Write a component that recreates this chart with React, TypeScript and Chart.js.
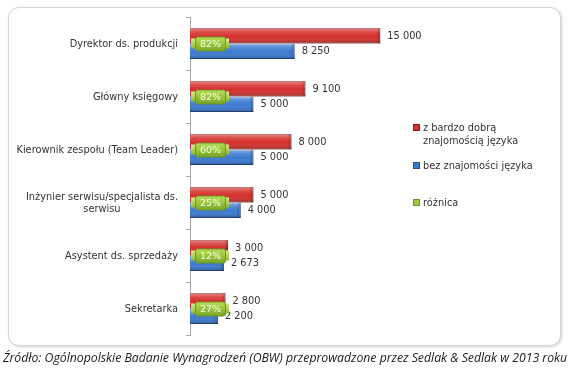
import React, { useEffect, useRef } from "react";
import { Chart, registerables } from "chart.js";

Chart.register(...registerables);

const categories: string[][] = [
  ["Dyrektor ds. produkcji"],
  ["Główny księgowy"],
  ["Kierownik zespołu (Team Leader)"],
  ["Inżynier serwisu/specjalista ds.", "serwisu"],
  ["Asystent ds. sprzedaży"],
  ["Sekretarka"],
];
const withLanguage = [15000, 9100, 8000, 5000, 3000, 2800];
const withoutLanguage = [8250, 5000, 5000, 4000, 2673, 2200];
const differencePct = [82, 82, 60, 25, 12, 27];
const seriesNames = [
  ["z bardzo dobrą", "znajomością języka"],
  ["bez znajomości języka"],
  ["różnica"],
];
const sourceText =
  "Źródło: Ogólnopolskie Badanie Wynagrodzeń (OBW) przeprowadzone przez Sedlak & Sedlak w 2013 roku";

const FONT = "9.8px 'DejaVu Sans'";
const TEXT = "#333333";
const AXIS = "#a6a6a6";
const colors = ["#d5302c", "#3b79d1", "#9cc83c"];
const borders = ["#8f1c1a", "#24508f", "#6d9626"];

const fmt = (v: number) => String(v).replace(/\B(?=(\d{3})+(?!\d))/g, " ");

const decorPlugin = {
  id: "decor",
  afterDatasetsDraw(chart: any) {
    const ctx = chart.ctx as CanvasRenderingContext2D;
    [0, 1].forEach((di) => {
      const meta = chart.getDatasetMeta(di);
      meta.data.forEach((el: any) => {
        const { x, y, base, height } = el.getProps(["x", "y", "base", "height"], true);
        const top = y - height / 2;
        const g = ctx.createLinearGradient(0, top, 0, top + height);
        g.addColorStop(0, "rgba(255,255,255,0.45)");
        g.addColorStop(0.25, "rgba(255,255,255,0.15)");
        g.addColorStop(0.55, "rgba(255,255,255,0)");
        g.addColorStop(1, "rgba(0,0,0,0.28)");
        ctx.save();
        ctx.fillStyle = g;
        ctx.fillRect(base, top, x - base, height);
        const g2 = ctx.createLinearGradient(x - 4, 0, x, 0);
        g2.addColorStop(0, "rgba(0,0,0,0)");
        g2.addColorStop(1, "rgba(0,0,0,0.25)");
        ctx.fillStyle = g2;
        ctx.fillRect(x - 4, top, 4, height);
        ctx.restore();
      });
    });
    ctx.save();
    ctx.font = FONT;
    ctx.fillStyle = TEXT;
    ctx.textAlign = "left";
    ctx.textBaseline = "middle";
    [0, 1].forEach((di) => {
      const meta = chart.getDatasetMeta(di);
      const data = chart.data.datasets[di].data as number[];
      meta.data.forEach((el: any, i: number) => {
        const { x, y } = el.getProps(["x", "y"], true);
        ctx.fillText(fmt(data[i]), x + 7, y + 0.5);
      });
    });
    ctx.restore();
    const yScale = chart.scales.y;
    const left = chart.chartArea.left;
    ctx.save();
    differencePct.forEach((p, i) => {
      const cy = yScale.getPixelForValue(i);
      const gb = ctx.createLinearGradient(0, cy - 5, 0, cy + 5);
      gb.addColorStop(0, "#d6ea8f");
      gb.addColorStop(1, "#8fb935");
      ctx.fillStyle = gb;
      ctx.fillRect(left + 1, cy - 5, 38, 10);
      const bx = left + 5;
      const bw = 30;
      const bh = 14;
      const by = cy - bh / 2;
      const g = ctx.createLinearGradient(0, by, 0, by + bh);
      g.addColorStop(0, "#b9dc5c");
      g.addColorStop(0.5, "#9cc83c");
      g.addColorStop(1, "#7aa62a");
      ctx.fillStyle = g;
      ctx.strokeStyle = borders[2];
      ctx.lineWidth = 1;
      ctx.beginPath();
      (ctx as any).roundRect(bx + 0.5, by + 0.5, bw, bh, 2);
      ctx.fill();
      ctx.stroke();
      ctx.font = "9.5px 'DejaVu Sans'";
      ctx.fillStyle = "#f7fcea";
      ctx.textAlign = "center";
      ctx.textBaseline = "middle";
      ctx.fillText(p + "%", bx + bw / 2 + 0.5, cy + 1);
    });
    ctx.restore();
  },
  afterDraw(chart: any) {
    const ctx = chart.ctx as CanvasRenderingContext2D;
    const yScale = chart.scales.y;
    const rightX = chart.chartArea.left - 12;
    ctx.save();
    ctx.font = FONT;
    ctx.fillStyle = TEXT;
    ctx.textAlign = "center";
    ctx.textBaseline = "middle";
    categories.forEach((lines, i) => {
      const cy = yScale.getPixelForValue(i);
      const w = Math.max(...lines.map((l) => ctx.measureText(l).width));
      const cx = rightX - w / 2;
      lines.forEach((l, j) => {
        ctx.fillText(l, cx, cy + (j - (lines.length - 1) / 2) * 12 + 0.5);
      });
    });
    ctx.restore();
  },
};

export default function App() {
  const ref = useRef<HTMLCanvasElement>(null);
  useEffect(() => {
    if (!ref.current) return;
    const chart = new Chart(ref.current, {
      type: "bar",
      data: {
        labels: categories.map((c) => c.join(" ")),
        datasets: [
          {
            label: seriesNames[0].join(" "),
            data: withLanguage,
            backgroundColor: colors[0],
            borderColor: borders[0],
            borderWidth: 1,
            categoryPercentage: 0.585,
            barPercentage: 1,
          },
          {
            label: seriesNames[1].join(" "),
            data: withoutLanguage,
            backgroundColor: colors[1],
            borderColor: borders[1],
            borderWidth: 1,
            categoryPercentage: 0.585,
            barPercentage: 1,
          },
        ],
      },
      options: {
        indexAxis: "y",
        responsive: false,
        animation: false,
        layout: { padding: { left: 0, right: 177, top: 17, bottom: 35 } },
        plugins: { legend: { display: false }, tooltip: { enabled: false } },
        scales: {
          x: { display: false, min: 0, max: 16000 },
          y: {
            afterFit: (s: any) => {
              s.width = 190;
            },
            ticks: { display: false },
            grid: {
              drawOnChartArea: false,
              drawTicks: true,
              tickLength: 4,
              color: AXIS,
              offset: true,
            },
            border: { display: true, color: AXIS },
          },
        },
      },
      plugins: [decorPlugin],
    });
    return () => chart.destroy();
  }, []);

  const legendTop = [121, 159, 196];
  return (
    <div style={{ position: "fixed", left: 0, top: 0, width: 570, height: 370, background: "#fff", overflow: "hidden" }}>
      <div
        style={{
          position: "absolute",
          left: 8,
          top: 7,
          width: 551,
          height: 337,
          border: "1px solid #d6d6d6",
          borderRadius: 11,
          boxShadow: "1px 1px 3px rgba(0,0,0,0.18)",
          background: "#fff",
        }}
      />
      <canvas ref={ref} width={570} height={370} style={{ position: "absolute", left: 0, top: 0 }} />
      {seriesNames.map((lines, i) => (
        <div
          key={i}
          style={{
            position: "absolute",
            left: 413,
            top: legendTop[i],
            font: FONT,
            color: TEXT,
            lineHeight: "13px",
          }}
        >
          <span
            style={{
              position: "absolute",
              left: 0,
              top: 3,
              width: 7,
              height: 7,
              background: colors[i],
              border: `1px solid ${borders[i]}`,
              boxSizing: "border-box",
            }}
          />
          <div style={{ marginLeft: 10, whiteSpace: "nowrap" }}>
            {lines.map((l, j) => (
              <div key={j}>{l}</div>
            ))}
          </div>
        </div>
      ))}
      <div
        style={{
          position: "absolute",
          left: 3,
          top: 349,
          font: "italic 12.25px 'Open Sans'",
          color: "#1a1a1a",
          whiteSpace: "nowrap",
        }}
      >
        {sourceText}
      </div>
    </div>
  );
}
